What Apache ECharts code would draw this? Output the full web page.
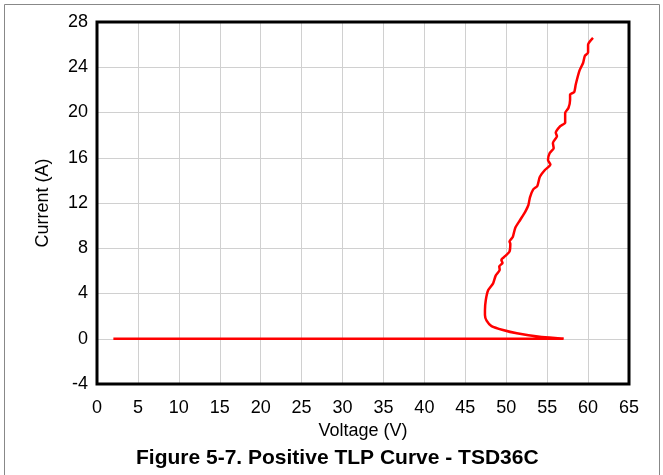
<!DOCTYPE html>
<html>
<head>
<meta charset="utf-8">
<script src="https://cdn.jsdelivr.net/npm/echarts@6/dist/echarts.min.js"></script>
<style>
html,body{margin:0;padding:0;background:#fff;}
#chart{width:663px;height:475px;}
</style>
</head>
<body>
<div id="chart"></div>
<script>
var titleText = 'Figure 5-7. Positive TLP Curve - TSD36C';
var xName = 'Voltage (V)';
var yName = 'Current (A)';
var voltage = [2, 57.0, 56.9, 54.1, 51.3, 49.6, 48.2, 47.6, 47.4, 47.4, 47.5, 47.8, 48.4, 48.7, 49.2, 49.15, 49.55, 49.4, 49.7, 50.0, 50.4, 50.5, 50.4, 50.8, 51.1, 51.7, 52.3, 52.7, 52.9, 53.3, 53.8, 54.1, 54.7, 55.4, 55.1, 55.3, 55.8, 55.7, 56.2, 56.05, 56.6, 57.2, 57.2, 57.6, 57.8, 57.8, 58.3, 58.5, 58.95, 59.4, 59.6, 60.0, 60.0, 60.6];
var current = [0, 0, 0.02, 0.18, 0.48, 0.77, 1.12, 1.6, 2.1, 2.5, 3.4, 4.3, 4.9, 5.56, 6.1, 6.4, 6.7, 6.97, 7.2, 7.4, 7.7, 8.4, 8.6, 9.0, 9.8, 10.5, 11.2, 11.8, 12.5, 13.2, 13.5, 14.3, 14.9, 15.4, 15.8, 16.4, 16.85, 17.3, 17.9, 18.2, 18.8, 19.1, 19.95, 20.4, 21.1, 21.6, 21.8, 22.5, 23.7, 24.4, 25.0, 25.3, 26.0, 26.6];

var points = voltage.map(function (v, i) { return [v, current[i]]; });
var font = '"Liberation Sans", Arial, sans-serif';
var chart = echarts.init(document.getElementById('chart'), null, {renderer: 'canvas'});
chart.setOption({
  animation: false,
  backgroundColor: '#fff',
  grid: {left: 97, right: 34, top: 22, bottom: 91, show: true, borderColor: '#000', borderWidth: 3, z: 5},
  title: {
    text: titleText, left: 131, top: 443,
    textStyle: {fontFamily: font, fontWeight: 'bold', fontSize: 21, color: '#000'}
  },
  graphic: [{
    type: 'rect', shape: {x: 4.5, y: 4.5, width: 655, height: 480},
    style: {fill: 'none', stroke: '#888', lineWidth: 1}, silent: true, z: -1
  }],
  xAxis: {
    type: 'value', min: 0, max: 65, interval: 5,
    name: xName, nameLocation: 'middle', nameGap: 34,
    nameTextStyle: {fontFamily: font, fontSize: 18, color: '#000'},
    axisLine: {show: false}, axisTick: {show: false},
    axisLabel: {fontFamily: font, fontSize: 18, color: '#000', margin: 15},
    splitLine: {show: true, showMinLine: false, showMaxLine: false, lineStyle: {color: '#d0d0d0', width: 1}}
  },
  yAxis: {
    type: 'value', min: -4, max: 28, interval: 4,
    name: yName, nameLocation: 'middle', nameGap: 45,
    nameTextStyle: {fontFamily: font, fontSize: 18, color: '#000'},
    axisLine: {show: false}, axisTick: {show: false},
    axisLabel: {fontFamily: font, fontSize: 18, color: '#000', margin: 9},
    splitLine: {show: true, showMinLine: false, showMaxLine: false, lineStyle: {color: '#d0d0d0', width: 1}}
  },
  series: [{
    type: 'line', data: points, showSymbol: false, symbol: 'none',
    smooth: 0.2, lineStyle: {color: '#ff0000', width: 2.5}, z: 3
  }]
});
</script>
</body>
</html>
